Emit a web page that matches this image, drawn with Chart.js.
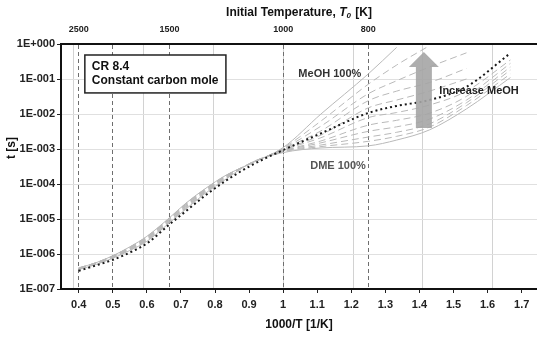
<!DOCTYPE html>
<html>
<head>
<meta charset="utf-8">
<script src="https://cdn.jsdelivr.net/npm/chart.js@4.4.0/dist/chart.umd.min.js"></script>
<style>
  html, body { margin: 0; padding: 0; background: #fff; }
  #wrap { width: 537px; height: 337px; position: relative; }
</style>
</head>
<body>
<div id="wrap"><canvas id="ignChart"></canvas></div>
<script>
// x values: 1000/T for T = 2500 ... 600 K
const invTemp = [0.4, 0.45, 0.5, 0.55, 0.6, 0.667, 0.714, 0.769, 0.833, 0.909, 1.0, 1.111, 1.25, 1.333, 1.429, 1.538, 1.667];

// ignition delay t [s], DME 100% -> MeOH 100% in 10% steps
const dme100  = [3.6e-7, 5.0e-7, 7.6e-7, 1.26e-6, 2.3e-6, 7.9e-6, 1.9e-5, 5.2e-5, 1.4e-4, 4.2e-4, 7.9e-4, 1.07e-3, 1.23e-3, 1.8e-3, 3.5e-3, 1.4e-2, 0.11];
const meoh10  = [3.7e-7, 5.1e-7, 7.8e-7, 1.3e-6, 2.4e-6, 8.2e-6, 2.0e-5, 5.4e-5, 1.45e-4, 4.2e-4, 8.3e-4, 1.17e-3, 1.66e-3, 2.3e-3, 4.2e-3, 1.74e-2, 0.14];
const meoh20  = [3.7e-7, 5.2e-7, 8.0e-7, 1.33e-6, 2.5e-6, 8.5e-6, 2.1e-5, 5.6e-5, 1.5e-4, 4.1e-4, 8.5e-4, 1.3e-3, 2.2e-3, 3.0e-3, 5.2e-3, 2.1e-2, 0.18];
const meoh30  = [3.8e-7, 5.3e-7, 8.1e-7, 1.37e-6, 2.6e-6, 8.8e-6, 2.2e-5, 5.8e-5, 1.55e-4, 4.1e-4, 8.7e-4, 1.5e-3, 3.2e-3, 4.3e-3, 7.1e-3, 2.5e-2, 0.22];
const meoh40  = [3.8e-7, 5.4e-7, 8.3e-7, 1.4e-6, 2.7e-6, 9.2e-6, 2.3e-5, 6.0e-5, 1.6e-4, 4.1e-4, 8.9e-4, 1.7e-3, 4.8e-3, 6.6e-3, 1.05e-2, 3.2e-2, 0.28];
const meoh50  = [3.9e-7, 5.4e-7, 8.4e-7, 1.45e-6, 2.8e-6, 9.6e-6, 2.4e-5, 6.2e-5, 1.65e-4, 4.0e-4, 9.3e-4, 2.1e-3, 7.9e-3, 1.1e-2, 1.8e-2, 4.5e-2, 0.35];
const meoh60  = [3.9e-7, 5.5e-7, 8.6e-7, 1.48e-6, 2.9e-6, 1.0e-5, 2.5e-5, 6.4e-5, 1.7e-4, 4.0e-4, 9.5e-4, 2.5e-3, 1.5e-2, 2.5e-2, 4.5e-2, 0.1, null];
const meoh70  = [3.9e-7, 5.5e-7, 8.7e-7, 1.52e-6, 3.0e-6, 1.03e-5, 2.6e-5, 6.6e-5, 1.72e-4, 4.0e-4, 1.0e-3, 3.3e-3, 2.4e-2, 4.5e-2, 7.9e-2, 0.2, null];
const meoh80  = [4.0e-7, 5.6e-7, 8.8e-7, 1.55e-6, 3.1e-6, 1.06e-5, 2.7e-5, 6.8e-5, 1.75e-4, 4.0e-4, 1.02e-3, 4.5e-3, 3.8e-2, 8.9e-2, 0.22, 0.56, null];
const meoh90  = [4.0e-7, 5.6e-7, 8.9e-7, 1.58e-6, 3.15e-6, 1.08e-5, 2.75e-5, 7.0e-5, 1.78e-4, 4.0e-4, 1.07e-3, 6.3e-3, 7.1e-2, 0.25, 0.89, null, null];
const meoh100 = [4.0e-7, 5.6e-7, 8.9e-7, 1.6e-6, 3.2e-6, 1.1e-5, 2.8e-5, 7.1e-5, 1.8e-4, 4.0e-4, 1.1e-3, 1.0e-2, 0.14, 0.8, null, null, null];
// black dotted curve
const dottedCase = [3.3e-7, 4.7e-7, 6.8e-7, 1.1e-6, 2.0e-6, 7.1e-6, 1.66e-5, 4.5e-5, 1.26e-4, 3.5e-4, 9.3e-4, 2.8e-3, 1.07e-2, 1.7e-2, 2.5e-2, 6.0e-2, 0.55];

// axis ticks
const xTicks = [0.4, 0.5, 0.6, 0.7, 0.8, 0.9, 1.0, 1.1, 1.2, 1.3, 1.4, 1.5, 1.6, 1.7];
const xGridLines = [0.385, 0.59, 0.795, 1.0, 1.205, 1.41, 1.615];
const yTicks = [1e-7, 1e-6, 1e-5, 1e-4, 1e-3, 1e-2, 1e-1, 1];
const tempTicks = [2500, 2000, 1500, 1000, 800];
const tempLabels = ['2500', '', '1500', '1000', '800'];

const X_MIN = 0.348, X_MAX = 1.745;
const FONT = "'Liberation Sans', Arial, sans-serif";

function toPoints(arr) {
    const pts = [];
    arr.forEach((v, i) => { if (v !== null) pts.push({ x: invTemp[i], y: v }); });
    return pts;
}

const fan = [dme100, meoh10, meoh20, meoh30, meoh40, meoh50, meoh60, meoh70, meoh80, meoh90, meoh100];
const datasets = fan.map((arr, i) => ({
    data: toPoints(arr),
    borderColor: '#b9b9b9',
    borderWidth: 1,
    borderDash: (i === 0 || i === fan.length - 1) ? [] : [7, 4],
    pointRadius: 0,
    cubicInterpolationMode: 'monotone',
    order: 2
}));
datasets.push({
    data: toPoints(dottedCase),
    borderColor: '#1a1a1a',
    borderWidth: 2,
    borderDash: [2, 3],
    pointRadius: 0,
    cubicInterpolationMode: 'monotone',
    order: 1
});

// annotations, placed in data coordinates
const notes = {
    box: { x1: 0.418, x2: 0.832, y1: 0.485, y2: 0.04 },
    meoh: { x: 1.137, y: 0.139 },
    dme: { x: 1.161, y: 3.27e-4 },
    inc: { x: 1.575, y: 0.045 },
    arrow: { x: 1.413, tip: 0.59, base: 0.22, bottom: 0.004 }
};

const annotationPlugin = {
    id: 'notes',
    afterDatasetsDraw(chart) {
        const ctx = chart.ctx;
        const xs = chart.scales.x, ys = chart.scales.y;
        ctx.save();

        // big grey arrow
        const ax = xs.getPixelForValue(notes.arrow.x);
        const tip = ys.getPixelForValue(notes.arrow.tip);
        const base = ys.getPixelForValue(notes.arrow.base);
        const bot = ys.getPixelForValue(notes.arrow.bottom);
        ctx.fillStyle = 'rgba(165,165,165,0.9)';
        ctx.beginPath();
        ctx.moveTo(ax, tip);
        ctx.lineTo(ax + 15, base);
        ctx.lineTo(ax + 8, base);
        ctx.lineTo(ax + 8, bot);
        ctx.lineTo(ax - 8, bot);
        ctx.lineTo(ax - 8, base);
        ctx.lineTo(ax - 15, base);
        ctx.closePath();
        ctx.fill();

        // CR box
        const bx1 = xs.getPixelForValue(notes.box.x1), bx2 = xs.getPixelForValue(notes.box.x2);
        const by1 = ys.getPixelForValue(notes.box.y1), by2 = ys.getPixelForValue(notes.box.y2);
        ctx.fillStyle = '#fff';
        ctx.fillRect(bx1, by1, bx2 - bx1, by2 - by1);
        ctx.strokeStyle = '#222';
        ctx.lineWidth = 1.5;
        ctx.strokeRect(bx1, by1, bx2 - bx1, by2 - by1);
        ctx.fillStyle = '#111';
        ctx.font = 'bold 12px ' + FONT;
        ctx.textAlign = 'left';
        ctx.textBaseline = 'middle';
        ctx.fillText('CR 8.4', bx1 + 7, by1 + 12);
        ctx.fillText('Constant carbon mole', bx1 + 7, by1 + 26);

        ctx.textAlign = 'center';
        ctx.font = 'bold 11px ' + FONT;
        ctx.fillStyle = '#333';
        ctx.fillText('MeOH 100%', xs.getPixelForValue(notes.meoh.x), ys.getPixelForValue(notes.meoh.y));
        ctx.fillStyle = '#555';
        ctx.fillText('DME 100%', xs.getPixelForValue(notes.dme.x), ys.getPixelForValue(notes.dme.y));
        ctx.fillStyle = '#222';
        ctx.fillText('Increase MeOH', xs.getPixelForValue(notes.inc.x), ys.getPixelForValue(notes.inc.y));
        ctx.restore();
    },
    afterDraw(chart) {
        const ctx = chart.ctx;
        ctx.save();
        ctx.fillStyle = '#111';
        ctx.textBaseline = 'middle';

        // top title with italic T0
        const part1 = 'Initial Temperature, ';
        const part3 = ' [K]';
        ctx.font = 'bold 12px ' + FONT;
        const w1 = ctx.measureText(part1).width;
        const w3 = ctx.measureText(part3).width;
        ctx.font = 'italic bold 12px ' + FONT;
        const wT = ctx.measureText('T').width;
        ctx.font = 'italic bold 8px ' + FONT;
        const wS = ctx.measureText('0').width + 1;
        let x = 299 - (w1 + wT + wS + w3) / 2;
        const y = 13;
        ctx.textAlign = 'left';
        ctx.font = 'bold 12px ' + FONT;
        ctx.fillText(part1, x, y); x += w1;
        ctx.font = 'italic bold 12px ' + FONT;
        ctx.fillText('T', x, y); x += wT;
        ctx.font = 'italic bold 8px ' + FONT;
        ctx.fillText('0', x, y + 3); x += wS;
        ctx.font = 'bold 12px ' + FONT;
        ctx.fillText(part3, x, y);

        // y axis title
        ctx.translate(12, 148);
        ctx.rotate(-Math.PI / 2);
        ctx.textAlign = 'center';
        ctx.fillText('t [s]', 0, 0);
        ctx.restore();
    }
};

function expLabel(v) {
    const e = Math.round(Math.log10(v));
    const s = String(Math.abs(e)).padStart(3, '0');
    return '1E' + (e < 0 ? '-' : '+') + s;
}

new Chart(document.getElementById('ignChart'), {
    type: 'line',
    data: { datasets: datasets },
    options: {
        responsive: true,
        maintainAspectRatio: false,
        animation: false,
        layout: { padding: 0 },
        plugins: { legend: { display: false }, title: { display: false }, tooltip: { enabled: false } },
        scales: {
            x: {
                type: 'linear',
                position: 'bottom',
                min: X_MIN,
                max: X_MAX,
                afterBuildTicks: s => { s.ticks = xTicks.map(v => ({ value: v })); },
                afterFit: s => { s.height = 48; },
                ticks: {
                    autoSkip: false,
                    maxRotation: 0,
                    padding: 5,
                    color: '#222',
                    font: { family: FONT, size: 11, weight: 'bold' },
                    callback: v => String(Number(v.toFixed(1)))
                },
                grid: { drawOnChartArea: false, tickLength: 4, tickColor: '#222' },
                border: { width: 2, color: '#111' },
                title: {
                    display: true,
                    text: '1000/T [1/K]',
                    color: '#111',
                    font: { family: FONT, size: 12, weight: 'bold' },
                    padding: { top: 0, bottom: 5 }
                }
            },
            xg: {
                type: 'linear',
                position: 'bottom',
                min: X_MIN,
                max: X_MAX,
                afterBuildTicks: s => { s.ticks = xGridLines.map(v => ({ value: v })); },
                afterFit: s => { s.height = 0; },
                ticks: { display: false },
                grid: { color: '#d2d2d2', lineWidth: 1, drawTicks: false },
                border: { display: false }
            },
            xt: {
                type: 'linear',
                position: 'top',
                min: X_MIN,
                max: X_MAX,
                afterBuildTicks: s => { s.ticks = tempTicks.map(t => ({ value: 1000 / t })); },
                afterFit: s => { s.height = 44; },
                ticks: {
                    autoSkip: false,
                    maxRotation: 0,
                    padding: 9,
                    color: '#222',
                    font: { family: FONT, size: 9, weight: 'bold' },
                    callback: (v, i) => tempLabels[i]
                },
                grid: { color: '#6e6e6e', lineWidth: 1, drawTicks: false, z: -0.5 },
                border: { width: 2, color: '#111', dash: [4, 3] }
            },
            y: {
                type: 'logarithmic',
                min: 1e-7,
                max: 1,
                afterBuildTicks: s => { s.ticks = yTicks.map(v => ({ value: v })); },
                afterFit: s => { s.width = 61; },
                ticks: {
                    autoSkip: false,
                    padding: 2,
                    color: '#222',
                    font: { family: FONT, size: 11, weight: 'bold' },
                    callback: v => expLabel(v)
                },
                grid: { color: '#e0e0e0', tickColor: '#222', tickLength: 4 },
                border: { width: 2, color: '#111' }
            }
        }
    },
    plugins: [annotationPlugin]
});
</script>
</body>
</html>
